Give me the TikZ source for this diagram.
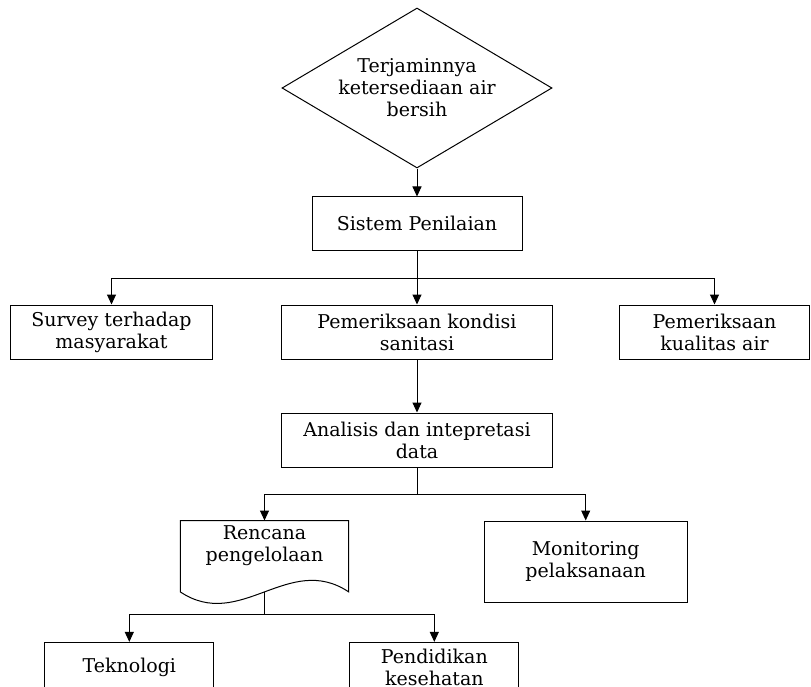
\documentclass[tikz,border=0pt]{standalone}
\usepackage{fontspec}
\setmainfont{DejaVu Serif}
\usepackage{tikz}
\usetikzlibrary{arrows.meta, positioning, shapes.geometric}

\begin{document}
\begin{tikzpicture}[
    x=1pt, y=1pt,
    font=\fontsize{19pt}{22pt}\selectfont,
    kotak/.style={draw, line width=1pt, align=center, inner sep=0pt},
    keputusan/.style={draw, diamond, aspect=1.69, line width=1pt, align=center, inner sep=0pt, minimum width=270pt, minimum height=160pt},
    panah/.style={-{Triangle[length=10pt, width=9pt]}, line width=1pt},
    garis/.style={line width=1pt},
]
\clip (0,0) rectangle (811,-687);

% tujuan dan sistem penilaian
\node[keputusan] (tujuan) at (417,-88) {Terjaminnya\\ketersediaan air\\bersih};
\node[kotak, minimum width=210pt, minimum height=53pt, below=28pt of tujuan] (nilai) {Sistem Penilaian};

% kegiatan penilaian
\node[kotak, minimum width=271pt, minimum height=54pt, below=54pt of nilai] (sanitasi) {Pemeriksaan kondisi\\sanitasi};
\node[kotak, minimum width=202pt, minimum height=54pt, left=68pt of sanitasi] (survey) {Survey terhadap\\masyarakat};
\node[kotak, minimum width=190pt, minimum height=54pt, right=66pt of sanitasi] (kualitas) {Pemeriksaan\\kualitas air};

% analisis
\node[kotak, minimum width=271pt, minimum height=54pt, below=53pt of sanitasi] (analisis) {Analisis dan intepretasi\\data};

% hasil
\node[minimum width=168pt, minimum height=50pt, inner sep=0pt, align=center, below=53pt of analisis, xshift=-152.5pt] (rencana) {Rencana\\pengelolaan};
\node[kotak, minimum width=203pt, minimum height=81pt, right=135pt of rencana.north east, anchor=north west] (monitor) {Monitoring\\pelaksanaan};
\draw[garis] (rencana.north west) -- (rencana.north east) -- ([yshift=-21pt]rencana.south east)
    .. controls +(-60pt,40pt) and +(60pt,-40pt) .. ([yshift=-21pt]rencana.south west) -- cycle;
\coordinate (dok) at ([yshift=-21pt]rencana.south);

% tindak lanjut
\node[kotak, minimum width=169pt, minimum height=50pt, below=71pt of rencana.south west, anchor=north west, xshift=-136pt] (teknologi) {Teknologi};
\node[kotak, minimum width=169pt, minimum height=50pt, right=135pt of teknologi] (pendidikan) {Pendidikan\\kesehatan};

% panah
\draw[panah] (tujuan) -- (nilai);
\draw[garis] (nilai.south) -- ++(0,-28) coordinate (c1);
\draw[panah] (c1) -- (sanitasi);
\draw[panah] (c1) -| (survey);
\draw[panah] (c1) -| (kualitas);
\draw[panah] (sanitasi) -- (analisis);
\draw[garis] (analisis.south) -- ++(0,-27) coordinate (c2);
\draw[panah] (c2) -| (rencana.north);
\draw[panah] (c2) -| (monitor);
\draw[garis] (dok) -- ++(0,-23) coordinate (c3);
\draw[panah] (c3) -| (teknologi);
\draw[panah] (c3) -| (pendidikan);

\end{tikzpicture}
\end{document}
